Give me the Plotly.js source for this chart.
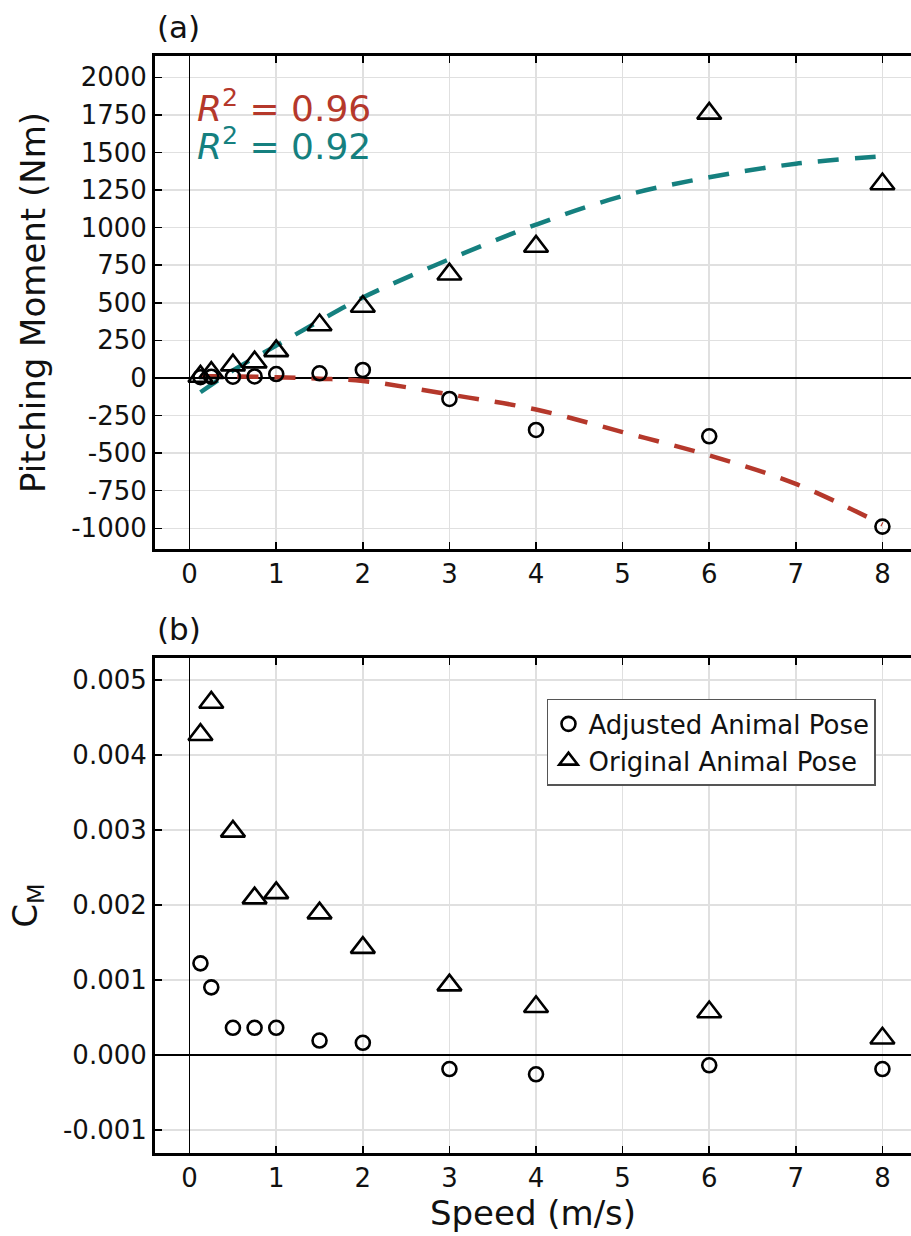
<!DOCTYPE html>
<html>
<head>
<meta charset="utf-8">
<script src="https://cdn.plot.ly/plotly-3.0.1.min.js"></script>
<style>
  html, body { margin: 0; padding: 0; background: #fff; }
  #chart { width: 911px; height: 1236px; }
</style>
</head>
<body>
<div id="chart"></div>
<script>
// Flow speeds tested (m/s)
const speed = [0.125, 0.25, 0.5, 0.75, 1, 1.5, 2, 3, 4, 6, 8];

// (a) Pitching moment (Nm)
const momentAdjusted = [5, 8, 8, 10, 26, 31, 53, -140, -346, -388, -989];
const momentOriginal = [10, 35, 85, 105, 180, 352, 475, 690, 875, 1760, 1290];

// Fitted trend curves sampled along speed
const fitSpeed = [0.125, 0.5, 1, 1.5, 2, 3, 4, 5, 6, 7, 8];
const fitAdjusted = [12, 10, 5, -5, -20, -110, -210, -360, -515, -705, -975];
const fitOriginal = [-95, 50, 215, 380, 535, 790, 1020, 1210, 1335, 1425, 1475];
const fitR2 = ["0.96", "0.92"];

// (b) Pitching moment coefficient C_M
const cmAdjusted = [0.00122, 0.0009, 0.00036, 0.00036, 0.00036, 0.00019, 0.00016, -0.00019, -0.00026, -0.00014, -0.00019];
const cmOriginal = [0.00427, 0.0047, 0.00298, 0.00209, 0.00216, 0.00189, 0.00143, 0.00093, 0.00064, 0.00057, 0.00022];

// Tick values and labels
const speedTicks = [0, 1, 2, 3, 4, 5, 6, 7, 8];
const momentTicks = [-1000, -750, -500, -250, 0, 250, 500, 750, 1000, 1250, 1500, 1750, 2000];
const momentTickText = ["-1000", "-750", "-500", "-250", "0", "250", "500", "750", "1000", "1250", "1500", "1750", "2000"];
const cmTicks = [-0.001, 0, 0.001, 0.002, 0.003, 0.004, 0.005];
const cmTickText = ["-0.001", "0.000", "0.001", "0.002", "0.003", "0.004", "0.005"];

const seriesNames = ["Adjusted Animal Pose", "Original Animal Pose"];
const red = "#b5382b";
const teal = "#15807f";
const FONT = "DejaVu Sans, Arial, sans-serif";

const circleMarker = { symbol: "circle-open", size: 14, color: "#000", line: { width: 2.6, color: "#000" } };
const triangleMarker = { symbol: "triangle-up-open", size: 21, color: "#000", line: { width: 2.6, color: "#000" } };

const traces = [
  // (a) fits
  { x: fitSpeed, y: fitAdjusted, xaxis: "x", yaxis: "y", mode: "lines", showlegend: false,
    line: { color: red, width: 4.5, dash: "21px,16px", shape: "spline" } },
  { x: fitSpeed, y: fitOriginal, xaxis: "x", yaxis: "y", mode: "lines", showlegend: false,
    line: { color: teal, width: 4.5, dash: "21px,16px", shape: "spline" } },
  // (a) points
  { x: speed, y: momentAdjusted, xaxis: "x", yaxis: "y", mode: "markers", showlegend: false, marker: circleMarker },
  { x: speed, y: momentOriginal, xaxis: "x", yaxis: "y", mode: "markers", showlegend: false, marker: triangleMarker },
  // (b) points
  { x: speed, y: cmAdjusted, xaxis: "x2", yaxis: "y2", mode: "markers", name: seriesNames[0], marker: circleMarker },
  { x: speed, y: cmOriginal, xaxis: "x2", yaxis: "y2", mode: "markers", name: seriesNames[1], marker: triangleMarker }
];

const tickFont = { family: FONT, size: 26, color: "#111" };
const titleFont = { family: FONT, size: 34, color: "#111" };

function xAxis(anchor, withTitle) {
  const ax = {
    anchor: anchor,
    range: [-0.4, 8.33],
    tickvals: speedTicks,
    ticktext: speedTicks.map(String),
    ticks: "inside", ticklen: 7, tickwidth: 1.5, tickcolor: "#000",
    showline: true, linewidth: 3, linecolor: "#000", mirror: "ticks",
    showgrid: true, gridcolor: "#e0e0e0", gridwidth: 1.5,
    zeroline: true, zerolinecolor: "#000", zerolinewidth: 1.5,
    tickfont: tickFont,
    automargin: false
  };
  if (withTitle) ax.title = { text: "Speed (m/s)", font: titleFont, standoff: 6 };
  return ax;
}

function yAxis(anchor, domain, range, vals, text, title) {
  return {
    anchor: anchor,
    domain: domain,
    range: range,
    tickvals: vals,
    ticktext: text,
    ticks: "inside", ticklen: 7, tickwidth: 1.5, tickcolor: "#000",
    showline: true, linewidth: 3, linecolor: "#000", mirror: false,
    showgrid: true, gridcolor: "#e0e0e0", gridwidth: 1.5,
    zeroline: true, zerolinecolor: "#000", zerolinewidth: 1.5,
    tickfont: tickFont,
    title: { text: title, font: titleFont, standoff: 16 },
    automargin: false
  };
}

const layout = {
  width: 911,
  height: 1236,
  margin: { l: 155, r: 0, t: 56, b: 83 },
  paper_bgcolor: "#fff",
  plot_bgcolor: "#fff",
  font: { family: FONT, color: "#111" },
  xaxis: xAxis("y", false),
  yaxis: yAxis("x", [0.5506, 1], [-1138, 2142], momentTicks, momentTickText, "Pitching Moment (Nm)"),
  xaxis2: xAxis("y2", true),
  yaxis2: yAxis("x2", [0, 0.451], [-0.00131, 0.00529], cmTicks, cmTickText, "C<sub>M</sub>"),
  legend: {
    x: 0.5185, y: 0.4139, xanchor: "left", yanchor: "top",
    bgcolor: "#fff", bordercolor: "#555", borderwidth: 1.5,
    font: { family: FONT, size: 26, color: "#111" },
    itemwidth: 30, tracegroupgap: 0
  },
  annotations: [
    { text: "(a)", xref: "x domain", yref: "y domain", x: 0, y: 1, xanchor: "left", yanchor: "bottom",
      yshift: 9, showarrow: false, font: { family: FONT, size: 31, color: "#111" } },
    { text: "(b)", xref: "x2 domain", yref: "y2 domain", x: 0, y: 1, xanchor: "left", yanchor: "bottom",
      yshift: 9, showarrow: false, font: { family: FONT, size: 31, color: "#111" } },
    { text: "<i>R</i><sup>2</sup> = " + fitR2[0], xref: "x domain", yref: "y domain", x: 0.053, y: 0.898, xanchor: "left", yanchor: "middle",
      showarrow: false, font: { family: FONT, size: 36, color: red } },
    { text: "<i>R</i><sup>2</sup> = " + fitR2[1], xref: "x domain", yref: "y domain", x: 0.053, y: 0.822, xanchor: "left", yanchor: "middle",
      showarrow: false, font: { family: FONT, size: 36, color: teal } }
  ]
};

Plotly.newPlot("chart", traces, layout, { displayModeBar: false, staticPlot: true });
</script>
</body>
</html>
